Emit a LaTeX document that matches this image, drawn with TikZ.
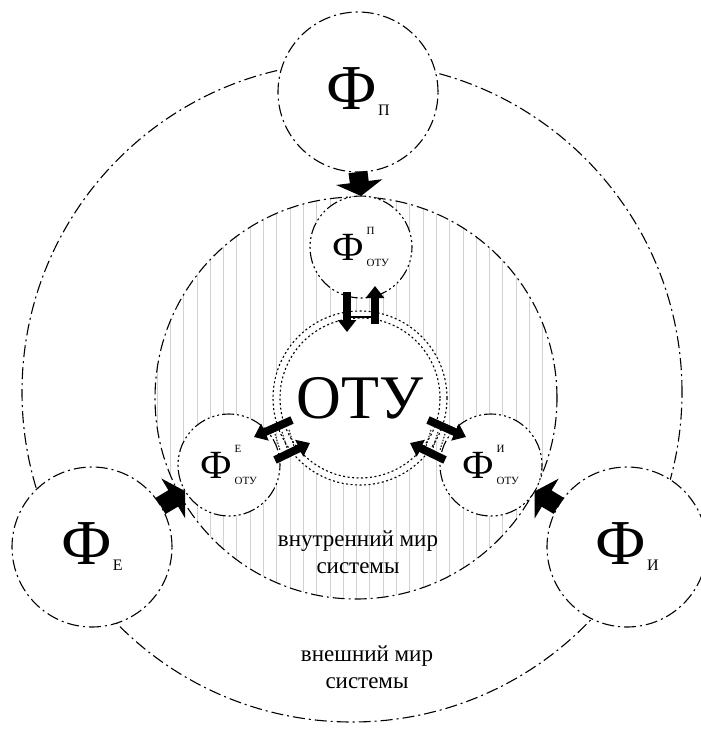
\documentclass[tikz,border=0pt]{standalone}
\usepackage{fontspec}
\setmainfont{Liberation Serif}
\usetikzlibrary{arrows.meta,calc}
\newcommand{\BigF}[1]{{\fontsize{64}{64}\selectfont Ф}\kern1pt\raisebox{-6pt}{\fontsize{16}{16}\selectfont #1}}
\newcommand{\SmF}[1]{{\fontsize{40}{40}\selectfont Ф}\kern2pt\rlap{\raisebox{26pt}{\fontsize{11}{11}\selectfont #1}}\raisebox{-6pt}{\fontsize{11}{11}\selectfont ОТУ}}
\begin{document}
\begin{tikzpicture}[x=1pt,y=-1pt,
  bigdash/.style={line width=1.1pt, dash pattern=on 12pt off 4pt on 2pt off 4pt},
  smalldash/.style={line width=1.1pt, dash pattern=on 2pt off 3pt on 2pt off 3pt on 2pt off 3pt on 12pt off 3pt},
  bigcirc/.style={circle, draw, bigdash, fill=white, minimum size=160pt, inner sep=0pt, outer sep=0pt},
  smallcirc/.style={circle, draw, smalldash, fill=white, minimum size=102pt, inner sep=0pt, outer sep=0pt},
  otucirc/.style={circle, draw, line width=1.1pt, dash pattern=on 2pt off 2.5pt, fill=white, minimum size=174pt, inner sep=0pt, outer sep=0pt},
  hatch/.style={gray!35, line width=0.9pt},
  bigarrow/.style={line width=19pt, -{Triangle[length=14pt,width=46pt]}},
  smallarrow/.style={line width=8pt, -{Triangle[length=12pt,width=18pt]}},
  worldtext/.style={align=center, font=\fontsize{23}{27}\selectfont, inner sep=0pt}
]
\useasboundingbox (0,0) rectangle (701,729);
% outer world
\draw[bigdash] (352,392) circle[radius=330pt];
% inner world, hatched
\begin{scope}
  \clip (356,398) circle[radius=201pt];
  \foreach \k in {-3,...,27} \draw[hatch] ({197+13.3*\k},190) -- ({197+13.3*\k},605);
\end{scope}
\draw[bigdash] (356,398) circle[radius=201pt];
% big outer circles
\node[bigcirc] (FP) at (358,92) {\BigF{П}};
\node[bigcirc] (FE) at (92,547) {\BigF{Е}};
\node[bigcirc] (FI) at (627,547) {\BigF{И}};
% small circles
\node[smallcirc] (SP) at (361,247) {\SmF{П}};
\node[smallcirc] (SE) at (229,465) {\SmF{Е}};
\node[smallcirc] (SI) at (491,465) {\SmF{И}};
% OTU
\node[otucirc] (OTU) at (360,398) {};
\draw[line width=1.1pt, dash pattern=on 2pt off 2.5pt] (OTU.center) circle[radius=80pt];
\node[font=\fontsize{62}{62}\selectfont, inner sep=0pt] (OTUt) at (360,398) {ОТУ};
% big arrows
\draw[bigarrow] (FP.south) -- (SP.north);
\draw[bigarrow] (FE) -- (SE);
\draw[bigarrow] (FI) -- (SI);
% top pair
\coordinate (ta1) at (347,292); \coordinate (ta2) at (347,332);
\coordinate (tb1) at (375,324); \coordinate (tb2) at (375,286);
\coordinate (tc1) at (347,317); \coordinate (tc2) at (375,317);
\draw[line width=1.8pt] (tc1) -- (tc2);
\draw[smallarrow] (ta1) -- (ta2);
\draw[smallarrow] (tb1) -- (tb2);
% left pair
\coordinate (la1) at (292,420); \coordinate (la2) at (254,437);
\coordinate (lb1) at (275,460); \coordinate (lb2) at (310,443);
\foreach \a/\b in {{(275,434)}/{(280,450)}, {(282,432)}/{(287,448)}, {(289,430)}/{(294,446)}}
  \draw[line width=1pt, dash pattern=on 1.5pt off 1.5pt] \a -- \b;
\draw[smallarrow] (la1) -- (la2);
\draw[smallarrow] (lb1) -- (lb2);
% right pair
\coordinate (ra1) at (428,420); \coordinate (ra2) at (466,437);
\coordinate (rb1) at (445,460); \coordinate (rb2) at (410,443);
\foreach \a/\b in {{(445,434)}/{(440,450)}, {(438,432)}/{(433,448)}, {(431,430)}/{(426,446)}}
  \draw[line width=1pt, dash pattern=on 1.5pt off 1.5pt] \a -- \b;
\draw[smallarrow] (ra1) -- (ra2);
\draw[smallarrow] (rb1) -- (rb2);
% texts
\node[worldtext] (inner) at (358,552) {внутренний мир\\системы};
\node[worldtext] (outer) at (367,667) {внешний мир\\системы};
\end{tikzpicture}
\end{document}
